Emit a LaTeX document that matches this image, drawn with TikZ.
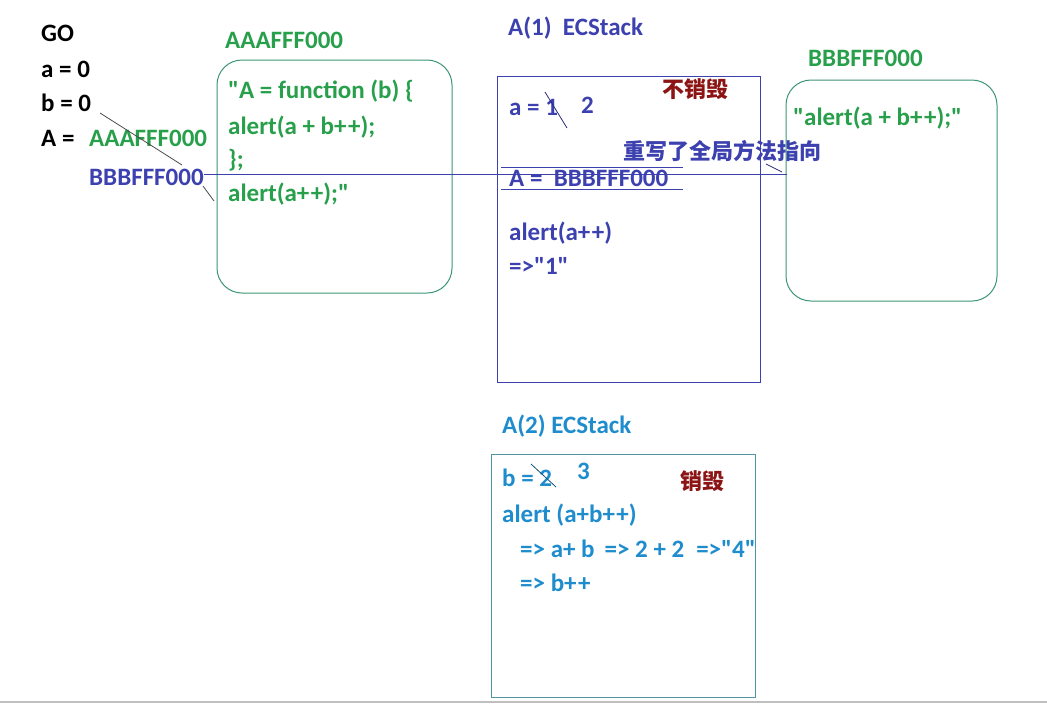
\documentclass[tikz,border=0pt]{standalone}
\usepackage{fontspec}
\setmainfont{Carlito}[Ligatures=TeXOff]
\newfontfamily\cjk{Noto Sans CJK SC}
\definecolor{tgreen}{RGB}{40,160,75}
\definecolor{bgreen}{RGB}{60,150,115}
\definecolor{tblue}{RGB}{60,65,175}
\definecolor{tcyan}{RGB}{30,140,205}
\definecolor{cbox}{RGB}{80,150,160}
\definecolor{dred}{RGB}{140,20,20}
\tikzset{
  t/.style={anchor=base west, inner sep=0pt, font=\fontsize{25}{29}\selectfont\bfseries},
  c/.style={anchor=base west, inner sep=0pt, font=\fontsize{22}{26}\selectfont\cjk\bfseries},
  strike/.style={draw=black!70, line width=0.8pt},
}
\begin{document}
\begin{tikzpicture}[x=1pt,y=-1pt]
\useasboundingbox[fill=white] (0,0) rectangle (1047,705);
\draw[gray!50, line width=1.5pt] (0,702) -- (1047,702);
% global
\node[t] (go) at (41,41) {GO};
\node[t] (ga) at (41,77) {a = 0};
\node[t] (gb) at (41,111) {b = 0};
\node[t] (gA) at (41,146) {A =};
\node[t, tgreen] (gAv) at (89,146) {AAAFFF000};
\node[t, tblue] (gBv) at (89,185) {BBBFFF000};
\draw[strike] (100,113) -- (182,165);
\draw[strike] (203,186) -- (214,201);
% AAAFFF000 heap
\node[t, tgreen] (hAl) at (225,48) {AAAFFF000};
\draw[bgreen, line width=1pt, rounded corners=25] (217,60) rectangle (452,293);
\node[t, tgreen] (h1) at (228,98) {"A = function (b) \{};
\node[t, tgreen] (h2) at (228,134) {alert(a + b+\kern1.5pt+);};
\node[t, tgreen] (h3) at (228,167) {\};};
\node[t, tgreen] (h4) at (228,201) {alert(a+\kern1.5pt+);"};
% A(1)
\node[t, tblue] (e1t) at (508,35) {A(1)\ \ ECStack};
\draw[tblue, line width=1pt] (497,76) rectangle (760,382);
\node[c, dred] (nd) at (662,97) {不销毁};
\node[t, tblue] (e1a) at (509,115) {a = 1};
\node[t, tblue] (e1a2) at (581,113) {2};
\draw[strike, tblue!70!black] (545,92) -- (567,128);
\node[c, tblue] (ov) at (623,159) {重写了全局方法指向};
\draw[tblue, line width=1pt] (501,167) -- (683,167);
\node[t, tblue] (e1A) at (509,186) {A =\ \ BBBFFF000};
\draw[tblue, line width=1pt] (501,189) -- (683,189);
\node[t, tblue] (e1c) at (509,240) {alert(a+\kern1.5pt+)};
\node[t, tblue] (e1r) at (509,274) {=>"1"};
% BBBFFF000 heap
\node[t, tgreen] (hBl) at (808,66) {BBBFFF000};
\draw[bgreen, line width=1pt, rounded corners=25] (786,80) rectangle (997,301);
\coordinate (hB) at (787,174);
\node[t, tgreen] (hb1) at (793,125) {"alert(a + b+\kern1.5pt+);"};
% pointer line
\draw[tblue, line width=1pt] (gBv.east |- 0,174) -- (hB);
\draw[tblue!70!black, line width=0.8pt] (766,164) -- (782,172);
% A(2)
\node[t, tcyan] (e2t) at (502,433) {A(2) ECStack};
\draw[cbox, line width=1pt] (491,454) rectangle (755,697);
\node[t, tcyan] (e2b) at (502,486) {b = 2};
\node[t, tcyan] (e2b3) at (577,479) {3};
\draw[strike, tcyan!60!black] (531,464) -- (556,487);
\node[c, dred] (ds) at (680,489) {销毁};
\node[t, tcyan] (e2c) at (502,522) {alert (a+b+\kern1.5pt+)};
\node[t, tcyan] (e2d) at (520,557) {=> a+ b\hspace{10pt}=> 2 + 2\hspace{12pt}=>"4"};
\node[t, tcyan] (e2e) at (520,591) {=> b+\kern1.5pt+};
\end{tikzpicture}
\end{document}
